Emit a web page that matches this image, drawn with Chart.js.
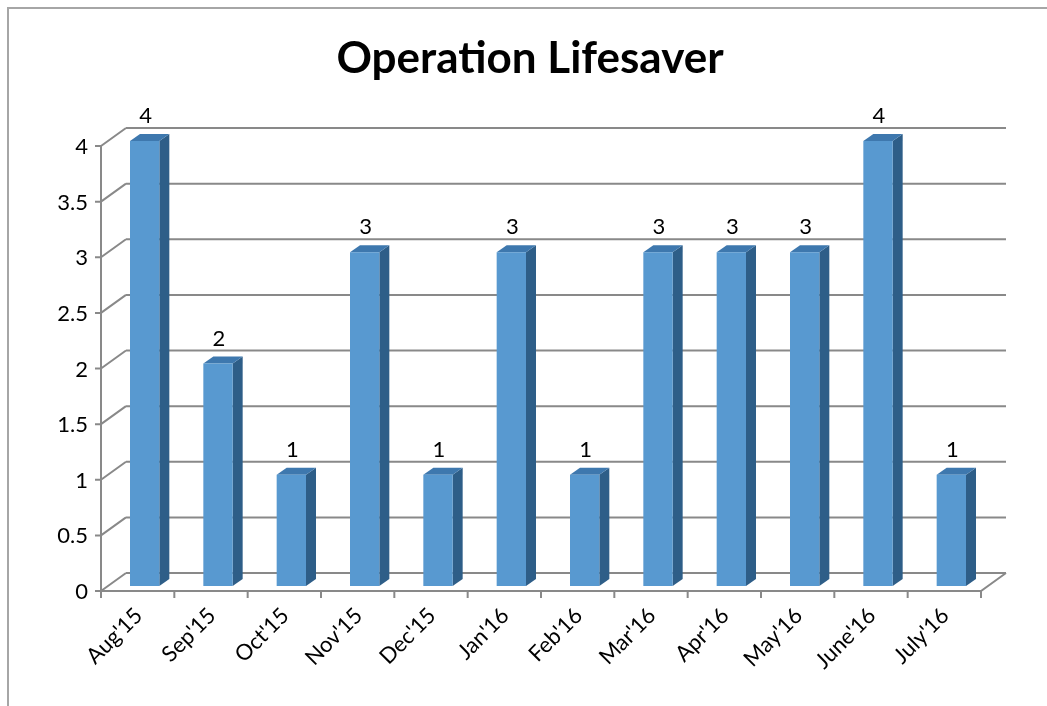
<!DOCTYPE html>
<html>
<head>
<meta charset="utf-8">
<script src="https://cdn.jsdelivr.net/npm/chart.js@4.4.1/dist/chart.umd.min.js"></script>
<style>
  html, body { margin: 0; padding: 0; background: #fff; }
  #wrap { width: 1047px; height: 706px; position: relative; }
</style>
</head>
<body>
<div id="wrap"><canvas id="chart"></canvas></div>
<script>
// data
const months = ["Aug'15", "Sep'15", "Oct'15", "Nov'15", "Dec'15", "Jan'16",
                "Feb'16", "Mar'16", "Apr'16", "May'16", "June'16", "July'16"];
const counts = [4, 2, 1, 3, 1, 3, 1, 3, 3, 3, 4, 1];
const yTicks = [0, 0.5, 1, 1.5, 2, 2.5, 3, 3.5, 4];

const FONT = "Lato, 'Open Sans', 'DejaVu Sans', sans-serif";
const GRID = '#898989';

// 3d offsets (wall depth and bar front/back depth)
const wall = { dx: 25, dy: -18 };
const barFront = { dx: 7, dy: -5 };
const barBack = { dx: 17, dy: -12 };

// back wall, side wall, floor and axis ticks
const wallPlugin = {
  id: 'wall3d',
  beforeDatasetsDraw(chart) {
    const ctx = chart.ctx;
    const a = chart.chartArea;
    const y = chart.scales.y;
    ctx.save();
    ctx.strokeStyle = GRID;
    ctx.lineWidth = 2;
    ctx.beginPath();
    yTicks.forEach(t => {
      const py = y.getPixelForValue(t);
      // back wall line
      ctx.moveTo(a.left + wall.dx, py + wall.dy);
      ctx.lineTo(a.right + wall.dx, py + wall.dy);
      // side wall diagonal
      ctx.moveTo(a.left, py);
      ctx.lineTo(a.left + wall.dx, py + wall.dy);
      // tick mark
      ctx.moveTo(a.left - 6, py);
      ctx.lineTo(a.left, py);
    });
    // front vertical axis
    ctx.moveTo(a.left, y.getPixelForValue(4));
    ctx.lineTo(a.left, a.bottom);
    // floor front edge and right diagonal
    ctx.moveTo(a.left, a.bottom);
    ctx.lineTo(a.right, a.bottom);
    ctx.lineTo(a.right + wall.dx, a.bottom + wall.dy);
    // x ticks on category boundaries
    const step = (a.right - a.left) / months.length;
    for (let i = 0; i <= months.length; i++) {
      const px = a.left + i * step;
      ctx.moveTo(px, a.bottom);
      ctx.lineTo(px, a.bottom + 7);
    }
    ctx.stroke();
    ctx.restore();
  },
  afterDatasetsDraw(chart) {
    const ctx = chart.ctx;
    const meta = chart.getDatasetMeta(0);
    ctx.save();
    meta.data.forEach((bar, i) => {
      const half = bar.width / 2;
      const l = bar.x - half + barFront.dx;
      const r = bar.x + half + barFront.dx;
      const t = bar.y + barFront.dy;
      const b = bar.base + barFront.dy;
      const ddx = barBack.dx - barFront.dx;
      const ddy = barBack.dy - barFront.dy;
      // side face
      ctx.fillStyle = '#2E5E88';
      ctx.beginPath();
      ctx.moveTo(r, b);
      ctx.lineTo(r, t);
      ctx.lineTo(r + ddx, t + ddy);
      ctx.lineTo(r + ddx, b + ddy);
      ctx.closePath();
      ctx.fill();
      // top face
      ctx.fillStyle = '#3E78AE';
      ctx.beginPath();
      ctx.moveTo(l, t);
      ctx.lineTo(l + ddx, t + ddy);
      ctx.lineTo(r + ddx, t + ddy);
      ctx.lineTo(r, t);
      ctx.closePath();
      ctx.fill();
      // front face
      ctx.fillStyle = '#5899D0';
      ctx.fillRect(l, t, r - l, b - t);
      // value label
      ctx.fillStyle = '#000';
      ctx.font = '22px ' + FONT;
      ctx.textAlign = 'center';
      ctx.textBaseline = 'bottom';
      ctx.fillText(String(counts[i]), bar.x + barFront.dx + 1, t - 14);
    });
    ctx.restore();
  },
  afterDraw(chart) {
    const ctx = chart.ctx;
    const a = chart.chartArea;
    const y = chart.scales.y;
    const x = chart.scales.x;
    ctx.save();
    ctx.fillStyle = '#000';
    ctx.font = '22px ' + FONT;
    // y labels
    ctx.textAlign = 'right';
    ctx.textBaseline = 'middle';
    yTicks.forEach(t => {
      ctx.fillText(String(t), a.left - 13, y.getPixelForValue(t) + 1);
    });
    // x labels rotated 45 degrees
    ctx.textAlign = 'right';
    months.forEach((m, i) => {
      const px = x.getPixelForValue(i);
      ctx.save();
      ctx.translate(px + 1, a.bottom + 21);
      ctx.rotate(-Math.PI / 4);
      ctx.fillText(m, 0, 0);
      ctx.restore();
    });
    // outer frame (top and left only)
    ctx.strokeStyle = '#A6A6A6';
    ctx.lineWidth = 2;
    ctx.beginPath();
    ctx.moveTo(8, 706);
    ctx.lineTo(8, 8);
    ctx.lineTo(1047, 8);
    ctx.stroke();
    ctx.restore();
  }
};

new Chart(document.getElementById('chart'), {
  type: 'bar',
  data: {
    labels: months,
    datasets: [{
      data: counts,
      backgroundColor: 'rgba(0,0,0,0)',
      borderWidth: 0,
      barPercentage: 0.4,
      categoryPercentage: 1
    }]
  },
  options: {
    responsive: true,
    maintainAspectRatio: false,
    animation: false,
    layout: { padding: { left: 79, right: 66, top: 0, bottom: 115 } },
    plugins: {
      legend: { display: false },
      tooltip: { enabled: false },
      title: {
        display: true,
        text: 'Operation Lifesaver',
        color: '#000',
        font: { family: FONT, size: 44, weight: 'bold', lineHeight: 1.2 },
        padding: { top: 32, bottom: 61.2 }
      }
    },
    scales: {
      x: { display: false },
      y: {
        min: 0, max: 4,
        grid: { display: false },
        border: { display: false },
        ticks: { display: false },
        // keeps a strip for the hand-drawn labels so the title centres like the original
        afterFit(scale) { scale.width = 22; }
      }
    }
  },
  plugins: [wallPlugin]
});
</script>
</body>
</html>
